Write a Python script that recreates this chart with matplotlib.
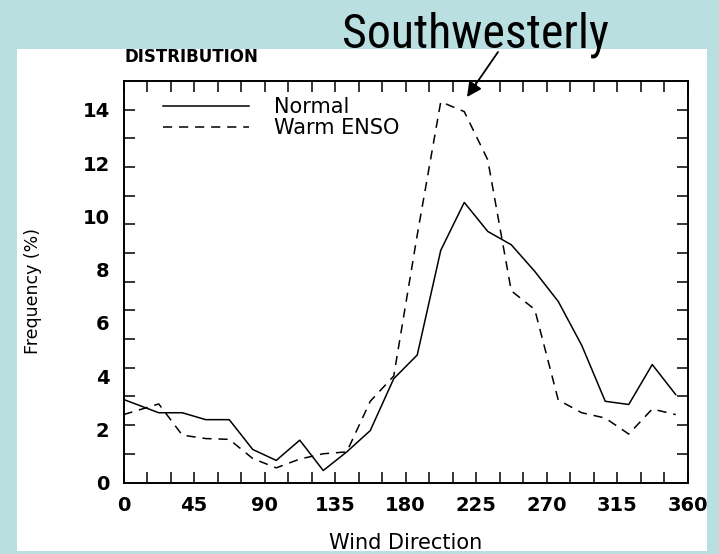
import matplotlib
matplotlib.use("Agg")
import matplotlib.pyplot as plt
import numpy as np
from matplotlib import font_manager as fm
from matplotlib.patches import Rectangle

# ---- data ----
wind_dir = [0, 22.5, 37.5, 52.5, 67.5, 82.5, 97.5, 112.5, 127.5, 142.5, 157.5, 172.5,
            187.5, 202.5, 217.5, 232.5, 247.5, 262.5, 277.5, 292.5, 307.5, 322.5, 337.5, 352.5]
normal = [3.12, 2.62, 2.62, 2.36, 2.36, 1.24, 0.83, 1.59, 0.45, 1.15, 1.95, 3.9,
          4.79, 8.72, 10.52, 9.43, 8.93, 7.93, 6.8, 5.15, 3.05, 2.93, 4.43, 3.30]
warm_enso = [2.55, 2.95, 1.78, 1.65, 1.62, 0.9, 0.55, 0.88, 1.08, 1.15, 3.05, 4.0,
             9.3, 14.3, 13.93, 12.12, 7.2, 6.5, 3.1, 2.62, 2.42, 1.82, 2.76, 2.55]
series_labels = ["Normal", "Warm ENSO"]
x_ticklabels = [0, 45, 90, 135, 180, 225, 270, 315, 360]
y_ticklabels = [0, 2, 4, 6, 8, 10, 12, 14]

W, H = 719, 554
BLUE = "#b9dfe1"

def px(x, y):
    return (x / W, 1 - y / H)

def find_narrow_font():
    entries = fm.fontManager.ttflist
    prefs = ["liberation sans narrow", "arial narrow", "roboto condensed",
             "dejavu sans condensed", "noto sans condensed", "open sans condensed"]
    def key(e):
        return (e.name + " " + str(e.fname)).lower()
    regular = [e for e in entries if e.style == "normal" and e.weight in (400, "normal", "regular")]
    pool = regular or entries
    for p in prefs:
        for e in pool:
            k = key(e).replace("-", " ").replace("_", " ")
            if p in k and "bold" not in str(e.fname).lower() and "oblique" not in str(e.fname).lower() \
                    and "italic" not in str(e.fname).lower():
                return fm.FontProperties(fname=e.fname)
    for e in pool:
        k = key(e)
        if ("narrow" in k or "condensed" in k) and "bold" not in k and "italic" not in k \
                and "oblique" not in k:
            return fm.FontProperties(fname=e.fname)
    for e in pool:
        if e.stretch in ("condensed", "semi-condensed", "extra-condensed"):
            return fm.FontProperties(fname=e.fname)
    return None

narrow = find_narrow_font()

fig = plt.figure(figsize=(W / 100, H / 100), dpi=100, facecolor="white")

left, right, top, bottom = 123.5, 687.5, 81, 482.5
ax = fig.add_axes([left / W, 1 - bottom / H, (right - left) / W, (bottom - top) / H])
ymax = 15.08
ax.set_xlim(0, 360)
ax.set_ylim(0, ymax)

ax.plot(wind_dir, normal, color="black", lw=1.1, label=series_labels[0])
ax.plot(wind_dir, warm_enso, color="black", lw=1.1, linestyle=(0, (6, 4.5)), label=series_labels[1])

for s in ax.spines.values():
    s.set_linewidth(1.4)

ax.set_xticks(x_ticklabels)
ax.set_xticklabels([str(v) for v in x_ticklabels])
ax.set_xticks(np.arange(0, 361, 15), minor=True)
ax.tick_params(axis="x", which="both", direction="in", length=8, width=1.1,
               top=True, bottom=True, pad=10)
ax.set_yticks(y_ticklabels)
ax.set_yticklabels([str(v) for v in y_ticklabels])
ax.set_yticks(np.linspace(0, ymax, 15)[1:-1], minor=True)
ax.tick_params(axis="y", which="major", length=0, pad=10, left=True, right=False)
ax.tick_params(axis="y", which="minor", direction="in", length=8, width=1.1,
               left=True, right=True)
for lab in ax.get_xticklabels() + ax.get_yticklabels():
    lab.set_fontsize(14)
    lab.set_fontweight("bold")

leg = ax.legend(loc="upper left", bbox_to_anchor=(0.063, 0.97), frameon=False,
                fontsize=15, handlelength=4.1, handletextpad=1.2, labelspacing=0.05,
                borderaxespad=0.0, borderpad=0.2)

fig.text(*px(125, 57), "DISTRIBUTION", fontsize=12, fontweight="bold",
         ha="left", va="center")
fig.text(*px(406, 549), "Wind Direction", fontsize=15, ha="center", va="baseline")
fig.text(*px(33, 291), "Frequency (%)", fontsize=12.5, rotation=90,
         ha="center", va="center")

# blue frame around white panel
frame = [(0, 0, 17, H), (707, 0, W - 707, H), (0, 0, W, 49), (0, 551, W, H - 551)]
for (x0, y0, w, h) in frame:
    fig.add_artist(Rectangle((x0 / W, 1 - (y0 + h) / H), w / W, h / H,
                             transform=fig.transFigure, facecolor=BLUE,
                             edgecolor="none", zorder=5))

if narrow is not None:
    fig.text(*px(476, 48), "Southwesterly", fontproperties=narrow, fontsize=34.5,
             ha="center", va="baseline", zorder=7)
else:
    fig.text(*px(476, 48), "Southwesterly", family="DejaVu Sans", fontsize=27,
             ha="center", va="baseline", zorder=7)

ann = ax.annotate("", xy=px(467, 97), xycoords="figure fraction",
                  xytext=px(498, 52), textcoords="figure fraction",
                  arrowprops=dict(arrowstyle="-|>", color="black", lw=1.3,
                                  mutation_scale=22, shrinkA=0, shrinkB=0),
                  annotation_clip=False)
ann.set_zorder(8)

fig.savefig("out.png", dpi=100, facecolor=fig.get_facecolor())
